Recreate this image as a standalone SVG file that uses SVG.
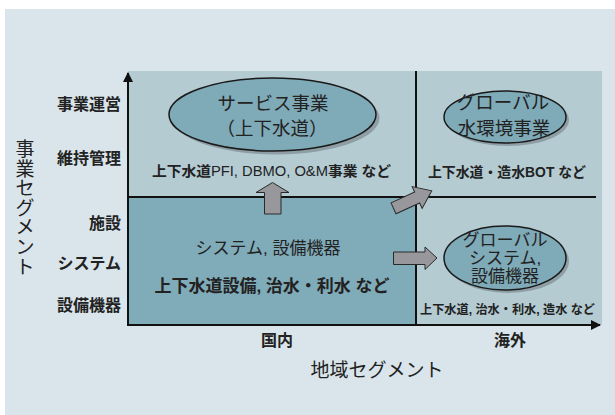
<svg xmlns="http://www.w3.org/2000/svg" width="615" height="415" viewBox="0 0 615 415">
<style>
text{font-family:"Liberation Sans","Noto Sans CJK JP",sans-serif;fill:#222}
.b{font-weight:bold}
.ax{stroke:#111;stroke-width:2;fill:none}
.ell{fill:#7faab7;stroke:#1a1a1a;stroke-width:1.5}
.sh{fill:#7d8a90;opacity:0.7}
.arr{fill:#98989c;stroke:#2a2a2a;stroke-width:1}
.m{text-anchor:middle}
.e{text-anchor:end}
</style>
<defs>
<marker id="ah" viewBox="0 0 10 10" refX="9" refY="5" markerWidth="5" markerHeight="5" orient="auto" markerUnits="strokeWidth"><path d="M0,0L10,5L0,10z" fill="#111"/></marker>
</defs>
<rect x="5" y="9" width="610" height="406" fill="#d9e5ea"/>
<g id="quadrants">
<rect x="128" y="71" width="474" height="254" fill="#b4cbd2"/>
<rect x="128" y="197" width="288" height="128" fill="#80abb8"/>
</g>
<g id="axes">
<line class="ax" x1="128" y1="325" x2="128" y2="73" marker-end="url(#ah)"/>
<line class="ax" x1="127" y1="325" x2="600" y2="325" marker-end="url(#ah)"/>
<line class="ax" x1="128" y1="197" x2="596" y2="197"/>
<line class="ax" x1="416" y1="71" x2="416" y2="325"/>
</g>
<g id="labels">
<text class="b e" x="121" y="110" font-size="16">事業運営</text>
<text class="b e" x="121" y="164" font-size="16">維持管理</text>
<text class="b e" x="121" y="229" font-size="16">施設</text>
<text class="b e" x="121" y="269" font-size="16">システム</text>
<text class="b e" x="121" y="311" font-size="16">設備機器</text>
<text class="b m" x="277" y="346" font-size="16">国内</text>
<text class="b m" x="510" y="346" font-size="16">海外</text>
<text class="m" x="377" y="377" font-size="19">地域セグメント</text>
<text class="m" font-size="19"><tspan x="25" y="156">事</tspan><tspan x="25" y="175.6">業</tspan><tspan x="25" y="195.2">セ</tspan><tspan x="25" y="214.8">グ</tspan><tspan x="25" y="234.4">メ</tspan><tspan x="25" y="254">ン</tspan><tspan x="25" y="273.6">ト</tspan></text>
</g>
<g id="service">
<ellipse class="sh" cx="276" cy="118" rx="103.5" ry="36.5"/>
<ellipse class="ell" cx="272.5" cy="114.5" rx="103.5" ry="36.5"/>
<text class="m" x="273" y="110" font-size="18.5">サービス事業</text>
<text class="m" x="272" y="135" font-size="18.5">（上下水道）</text>
<text x="152" y="176" font-size="14" textLength="239" lengthAdjust="spacingAndGlyphs"><tspan class="b">上下水道</tspan>PFI, DBMO, O&amp;M<tspan class="b">事業 など</tspan></text>
</g>
<g id="global-water">
<ellipse class="sh" cx="508" cy="120" rx="61" ry="26"/>
<ellipse class="ell" cx="505" cy="117" rx="61" ry="26"/>
<text class="m" x="503" y="109" font-size="18.5">グローバル</text>
<text class="m" x="504" y="135" font-size="18.5">水環境事業</text>
<text class="b" x="428" y="177" font-size="14" textLength="158" lengthAdjust="spacingAndGlyphs">上下水道・造水BOT など</text>
</g>
<g id="global-system">
<ellipse class="sh" cx="508" cy="261" rx="61" ry="32"/>
<ellipse class="ell" cx="505" cy="258" rx="61" ry="32"/>
<text class="m" x="505" y="246" font-size="17">グローバル</text>
<text class="m" x="505" y="264" font-size="17">システム,</text>
<text class="m" x="505" y="281.5" font-size="17">設備機器</text>
<text class="b" x="420" y="314" font-size="12.5" textLength="175" lengthAdjust="spacingAndGlyphs">上下水道, 治水・利水, 造水 など</text>
</g>
<g id="domestic-system">
<text class="m" x="268" y="254" font-size="17">システム, 設備機器</text>
<text class="b m" x="272" y="291.5" font-size="17">上下水道設備, 治水・利水 など</text>
</g>
<g id="connectors">
<path class="arr" d="M264.5,214L264.5,192.5L256,192.5L272.5,182.5L289,192.5L281,192.5L281,214Z"/>
<path class="arr" d="M393.5,252L425,252L425,247L437,258L425,269.5L425,264.5L393.5,264.5Z"/>
<path class="arr" transform="translate(393.5,208.3) rotate(-24.5)" d="M0,-6L26,-6L26,-12L42,0L26,12L26,6L0,6Z"/>
</g>
</svg>
